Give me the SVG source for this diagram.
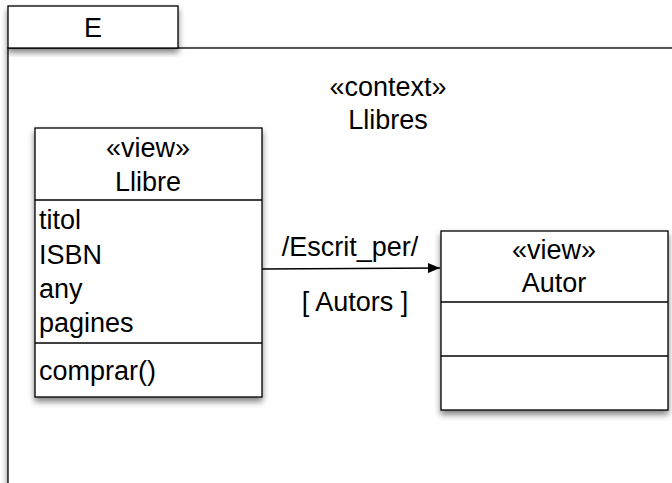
<svg xmlns="http://www.w3.org/2000/svg" width="672" height="483" viewBox="0 0 672 483">
<style>
.t{font-family:"Liberation Sans",Arial,sans-serif;font-size:27px;fill:#000}
.c{text-anchor:middle}
.box{fill:#fff;stroke:#000;stroke-width:1.3}
.ln{stroke:#000;stroke-width:1.3;fill:none}
</style>
<defs>
<filter id="sh" x="-20%" y="-20%" width="140%" height="140%">
<feGaussianBlur in="SourceAlpha" stdDeviation="3"/>
<feOffset dx="0" dy="4" result="b"/>
<feComponentTransfer><feFuncA type="linear" slope="0.5"/></feComponentTransfer>
<feMerge><feMergeNode/><feMergeNode in="SourceGraphic"/></feMerge>
</filter>
<marker id="arr" markerWidth="12" markerHeight="10" refX="12" refY="5" orient="auto" markerUnits="userSpaceOnUse">
<path d="M0,0 L12,5 L0,10 Z" fill="#000"/>
</marker>
</defs>
<g id="frame">
<rect x="8" y="48" width="680" height="450" class="box" filter="url(#sh)"/>
<rect x="8" y="6" width="170" height="42" class="box" filter="url(#sh)"/>
<text x="93" y="37" class="t c">E</text>
<text x="388" y="96" class="t c">«context»</text>
<text x="388" y="129" class="t c">Llibres</text>
</g>
<g id="llibre">
<rect x="35" y="128" width="227" height="269" class="box" filter="url(#sh)"/>
<line x1="35" y1="200" x2="262" y2="200" class="ln"/>
<line x1="35" y1="343" x2="262" y2="343" class="ln"/>
<text x="148" y="157" class="t c">«view»</text>
<text x="148" y="191" class="t c">Llibre</text>
<text x="39" y="229" class="t">titol</text>
<text x="39" y="264" class="t">ISBN</text>
<text x="39" y="298" class="t">any</text>
<text x="39" y="332" class="t">pagines</text>
<text x="39" y="380" class="t">comprar()</text>
</g>
<g id="autor">
<rect x="441" y="231" width="227" height="179" class="box" filter="url(#sh)"/>
<line x1="441" y1="302" x2="668" y2="302" class="ln"/>
<line x1="441" y1="356" x2="668" y2="356" class="ln"/>
<text x="554" y="259" class="t c">«view»</text>
<text x="554" y="292" class="t c">Autor</text>
</g>
<g id="connectors">
<line x1="262" y1="269" x2="440" y2="268" class="ln" marker-end="url(#arr)"/>
<text x="350" y="256" class="t c">/Escrit_per/</text>
<text x="355" y="311" class="t c">[ Autors ]</text>
</g>
</svg>
